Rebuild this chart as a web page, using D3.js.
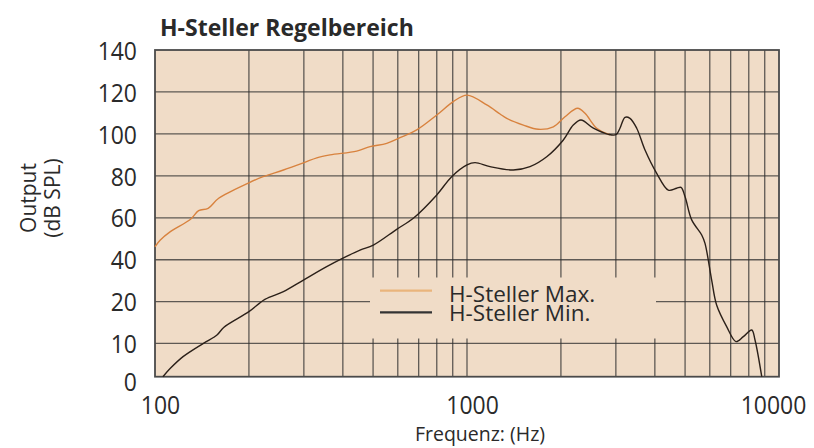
<!DOCTYPE html>
<html>
<head>
<meta charset="utf-8">
<script src="https://cdn.jsdelivr.net/npm/d3@7"></script>
<style>
  body { margin: 0; background: #fff; }
  svg text { font-family: "Open Sans", "Noto Sans", sans-serif; fill: #2a2a2a; }
</style>
</head>
<body>
<div id="chart"></div>
<script>
// Chart data:
const maxFreq = [100, 104, 112, 130, 138, 148, 160, 200, 222, 258, 300, 330, 364, 443, 489, 553, 610, 690, 800, 904, 1000,
                 1157, 1276, 1341, 1516, 1693, 1891, 2061, 2263, 2389, 2604, 2870];
const maxDb   = [46.2, 49.4, 53.4, 59.3, 63.4, 64.5, 69.3, 76.7, 79.6, 82.8, 86.3, 88.6, 90, 91.8, 93.9, 95.5, 98.2, 101.9, 109, 115.4, 118.5,
                 113.8, 109.5, 107.4, 104.2, 102.2, 103.4, 108.2, 112.2, 109.8, 102.7, 99.6];

const minFreq = [106, 112, 123, 143, 158, 166, 200, 225, 258, 299, 355, 396, 454, 501, 595, 673, 800, 893, 1000, 1061,
                 1185, 1408, 1592, 1801, 2036, 2191, 2319, 2541, 2838, 3003, 3092, 3210, 3330, 3499, 3720, 4055,
                 4418, 4700, 4852, 5000, 5250, 5653, 5792, 6084, 6310, 6796, 7280, 7685, 8176, 8377, 8805];
const minDb   = [0, 2.5, 6, 10, 12, 13.8, 17.6, 21.1, 24.8, 30.3, 36.7, 40.4, 44.6, 47, 54.5, 59.8, 70.9, 79.6, 85.2, 86.3,
                 84.4, 82.8, 84.4, 89.1, 97.1, 104.2, 106.6, 102.7, 99.8, 99.6, 102.7, 107.9, 107.4, 102.7, 92.3, 81.2,
                 73.2, 74.1, 74.5, 70, 59, 51.8, 47.8, 30.3, 19.2, 14, 10.4, 11.6, 13.2, 10.8, 0];

const yTicks = [0, 10, 20, 40, 60, 80, 100, 120, 140];
const xTickLabels = [100, 1000, 10000];
const seriesNames = ['H-Steller Max.', 'H-Steller Min.'];

// Canvas:
const svgWidth = 814;
const svgHeight = 448;
const plot = { left: 155, right: 779, top: 50, bottom: 376.7 };

const bg = '#f0dcc7';
const gridColor = '#2e2e2e';

let svg = d3.select('#chart')
            .append('svg')
            .attr('width', svgWidth)
            .attr('height', svgHeight);

// squeeze text a little, the original font is narrower than Open Sans:
function condense(sel, k) {
    sel.each(function() {
        let w = this.getComputedTextLength();
        d3.select(this).attr('textLength', w * k).attr('lengthAdjust', 'spacingAndGlyphs');
    });
}

// scales (the y axis of the original is not linear at the bottom):
let x = d3.scaleLog().domain([100, 10000]).range([plot.left, plot.right]);
let y = d3.scaleLinear().domain([0, 10, 20, 140]).range([plot.bottom, 343.3, 301.7, plot.top]);

// background
svg.append('rect')
   .attr('x', plot.left).attr('y', plot.top)
   .attr('width', plot.right - plot.left).attr('height', plot.bottom - plot.top)
   .attr('fill', bg);

// grid
let xGrid = x.ticks().filter(d => d > 100 && d < 10000);
svg.append('g')
   .selectAll('line')
   .data(xGrid)
   .join('line')
   .attr('x1', d => x(d)).attr('x2', d => x(d))
   .attr('y1', plot.top).attr('y2', plot.bottom)
   .attr('stroke', gridColor).attr('stroke-opacity', 0.75).attr('stroke-width', 1.3);

svg.append('g')
   .selectAll('line')
   .data(yTicks.filter(d => d > 0 && d < 140))
   .join('line')
   .attr('x1', plot.left).attr('x2', plot.right)
   .attr('y1', d => y(d)).attr('y2', d => y(d))
   .attr('stroke', gridColor).attr('stroke-opacity', 0.75).attr('stroke-width', 1.3);

// legend panel hides the grid behind it
svg.append('rect')
   .attr('x', 370).attr('y', 277.5)
   .attr('width', 286).attr('height', 61)
   .attr('fill', bg);

// frame
svg.append('rect')
   .attr('x', plot.left).attr('y', plot.top)
   .attr('width', plot.right - plot.left).attr('height', plot.bottom - plot.top)
   .attr('fill', 'none')
   .attr('stroke', '#4a4a4a').attr('stroke-width', 1.8);

// curves
let line = d3.line()
             .x(d => x(d[0]))
             .y(d => y(d[1]))
             .curve(d3.curveCatmullRom.alpha(0.5));

svg.append('path')
   .datum(maxFreq.map((f, i) => [f, maxDb[i]]))
   .attr('d', line)
   .attr('fill', 'none')
   .attr('stroke', '#d8823e').attr('stroke-width', 1.4);

svg.append('path')
   .datum(minFreq.map((f, i) => [f, minDb[i]]))
   .attr('d', line)
   .attr('fill', 'none')
   .attr('stroke', '#2b2019').attr('stroke-width', 1.4);

// y axis labels
let yAxis = d3.axisLeft(y).tickValues(yTicks).tickSize(0).tickPadding(18);
let yG = svg.append('g')
            .attr('transform', `translate(${plot.left}, 0)`)
            .call(yAxis);
yG.select('.domain').remove();
yG.selectAll('text')
  .attr('font-size', 25.5)
  .attr('font-family', null)
  .attr('dy', d => d === 0 ? '0.55em' : '0.36em')
  .call(condense, 0.9);

// x axis labels
let xAxis = d3.axisBottom(x).tickValues(xTickLabels).tickFormat(d3.format('d')).tickSize(0).tickPadding(0);
let xG = svg.append('g')
            .attr('transform', `translate(0, 414)`)
            .call(xAxis);
xG.select('.domain').remove();
xG.selectAll('text')
  .attr('font-size', 25.5)
  .attr('font-family', null)
  .attr('dy', 0)
  .attr('dx', (d, i) => [5, 5, -6][i])
  .call(condense, 0.9);

// titles
svg.append('text')
   .attr('x', 160).attr('y', 36)
   .attr('font-size', 23).attr('font-weight', 'bold')
   .text('H-Steller Regelbereich');

svg.append('text')
   .attr('x', 480).attr('y', 441)
   .attr('text-anchor', 'middle')
   .attr('font-size', 19.5)
   .text('Frequenz: (Hz)');

svg.append('text')
   .attr('transform', 'translate(36, 198) rotate(-90)')
   .attr('text-anchor', 'middle')
   .attr('font-size', 21)
   .text('Output');
svg.append('text')
   .attr('transform', 'translate(60, 198) rotate(-90)')
   .attr('text-anchor', 'middle')
   .attr('font-size', 21)
   .text('(dB SPL)');

// legend
const legendColors = ['#eab57c', '#333333'];
let legend = svg.append('g');
seriesNames.forEach(function(name, i) {
    legend.append('line')
          .attr('x1', 380).attr('x2', 432)
          .attr('y1', 290.7 + i * 21.6).attr('y2', 290.7 + i * 21.6)
          .attr('stroke', legendColors[i]).attr('stroke-width', 2.2);
    legend.append('text')
          .attr('x', 449).attr('y', 301.5 + i * 19.5)
          .attr('font-size', 22.5)
          .text(name);
});
</script>
</body>
</html>
